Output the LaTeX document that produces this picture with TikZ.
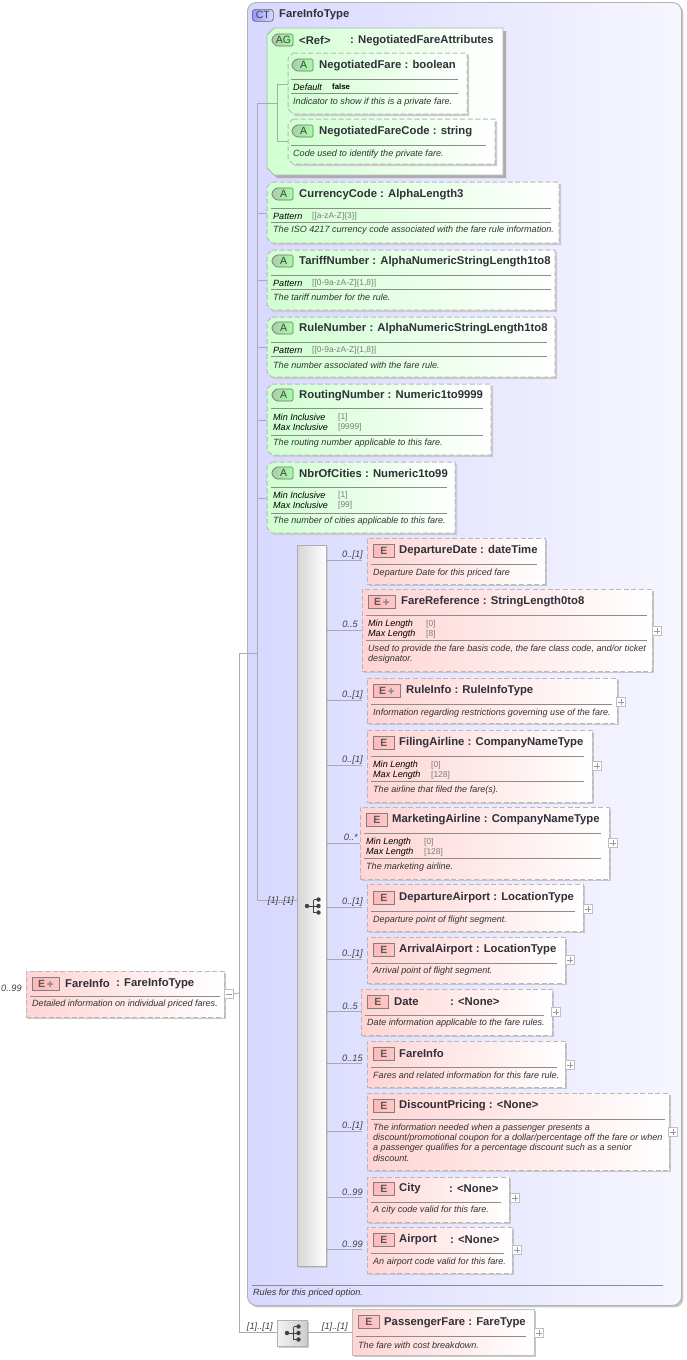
\documentclass[tikz,border=0pt]{standalone}
\usepackage{fontspec}
\setmainfont{Liberation Sans}
\newfontfamily\symf{DejaVu Sans}
\usetikzlibrary{shadows}
\definecolor{linec}{HTML}{A9A9B4}
\definecolor{dashc}{HTML}{B8B8BC}
\definecolor{greenf}{HTML}{D0FFD0}
\definecolor{redf}{HTML}{FFD4D4}
\definecolor{ctl}{HTML}{D8D8FF}
\definecolor{ctr}{HTML}{F6F6FF}
\definecolor{titlec}{HTML}{303038}
\definecolor{smallg}{HTML}{7C7C7C}
\tikzset{
 x=1pt,y=-1pt,
 dashline/.style={draw=dashc,dash pattern=on 5pt off 2.6pt,line width=1pt},
 attrfill/.style={left color=greenf,right color=white,dashline},
 groupfill/.style={left color=greenf,right color=white,draw=black!30,line width=.8pt},
 boxbase/.style={anchor=north west,inner sep=0pt,outer sep=0pt,right color=white,general shadow={fill=black!22,shadow xshift=2pt,shadow yshift=-2pt}},
 elembox/.style={boxbase,rectangle,left color=redf,dashline},
 solidbox/.style={boxbase,rectangle,left color=redf,draw=black!25,line width=1pt},
 ctbox/.style={anchor=north west,inner sep=0pt,rectangle,rounded corners=9pt,left color=ctl,right color=ctr,draw=black!30,line width=.9pt,general shadow={fill=black!22,shadow xshift=2pt,shadow yshift=-2pt}},
 seqbar/.style={anchor=north west,inner sep=0pt,rectangle,left color=black!16,right color=white,draw=black!32,line width=1pt,general shadow={fill=black!20,shadow xshift=1.5pt,shadow yshift=-1.5pt}},
 seqsmall/.style={anchor=north west,inner sep=0pt,rectangle,left color=black!5,right color=black!20,draw=black!30,line width=.7pt,general shadow={fill=black!20,shadow xshift=1.5pt,shadow yshift=-1.5pt}},
 titletxt/.style={anchor=west,inner sep=0pt,yshift=-1.3pt,font=\fontsize{11.3}{12}\selectfont\bfseries,text=titlec},
 desctxt/.style={anchor=west,inner sep=0pt,yshift=-1pt,font=\fontsize{9.05}{10}\selectfont\itshape,text=black!80},
 proptxt/.style={anchor=west,inner sep=0pt,yshift=-1pt,font=\fontsize{9.05}{10}\selectfont\itshape,text=black},
 valtxt/.style={anchor=west,inner sep=0pt,yshift=-1pt,font=\fontsize{8.4}{10}\selectfont,text=smallg},
 occ/.style={anchor=east,inner sep=0pt,yshift=-1pt,font=\fontsize{9.3}{10}\selectfont\itshape,text=black!75},
 conn/.style={draw=linec,line width=.8pt},
 rulel/.style={draw=black!45,line width=.6pt},
 plusbox/.style={anchor=north west,rectangle,inner sep=0pt,minimum width=9pt,minimum height=9pt,draw=black!25,fill=white,line width=.7pt},
 iconE/.style={anchor=north west,rectangle,inner sep=0pt,minimum height=13pt,draw=black!50,left color=red!28!white,middle color=red!7!white,right color=red!22!white,line width=.7pt,font=\fontsize{10.5}{10}\selectfont\bfseries,text=black!65},
 iconAfill/.style={draw=black!55,line width=.7pt,left color=green!45!black!35,middle color=green!18!white,right color=green!35!white},
 iconlab/.style={inner sep=0pt,font=\fontsize{10.5}{10}\selectfont,text=black!75},
 iconCT/.style={anchor=north west,rectangle,inner sep=0pt,rounded corners=3pt,minimum height=12pt,minimum width=21pt,draw=black!60,left color=ctl!70!blue,right color=ctl,line width=.7pt,font=\fontsize{10.5}{10}\selectfont,text=black!75},
 anchorbox/.style={anchor=north west,inner sep=0pt,outer sep=0pt,rectangle},
}
\newcommand{\mybox}[6]{\node[#1,minimum width=#5pt-#3pt,minimum height=#6pt-#4pt] (#2) at (#3,#4) {};}
% chamfered box: fill style, shadow offset, shadow colour, name, x1,y1,x2,y2, chamfer
\newcommand{\chamb}[9]{%
 \fill[#3] (#5+#9+#2,#6+#2) -- (#7+#2,#6+#2) -- (#7+#2,#8+#2) -- (#5+#9+#2,#8+#2) -- (#5+#2,#8-#9+#2) -- (#5+#2,#6+#9+#2) -- cycle;
 \path[#1] (#5+#9,#6) -- (#7,#6) -- (#7,#8) -- (#5+#9,#8) -- (#5,#8-#9) -- (#5,#6+#9) -- cycle;
 \node[anchorbox,minimum width=#7pt-#5pt,minimum height=#8pt-#6pt] (#4) at (#5,#6) {};}
\newcommand{\attrb}[5]{\chamb{attrfill}{2}{black!20}{#1}{#2}{#3}{#4}{#5}{5}}
\newcommand{\hr}[3]{\draw[rulel] (#1,#3) -- (#2,#3);}
\newcommand{\Eicon}[3]{\node[iconE,minimum width=21pt] (#1) at (#2,#3) {E};}
\newcommand{\EPicon}[3]{\node[iconE,minimum width=27pt] (#1) at (#2,#3) {E\,\textcolor{black!45}{\symf\fontsize{8}{10}\selectfont ✚}};}
% green tag icon: name, x, y, width, text
\newcommand{\tagicon}[5]{%
 \path[iconAfill,rounded corners=1.5pt] (#2+4,#3) -- (#2+#4,#3) -- (#2+#4,#3+12) -- (#2+4,#3+12) -- (#2,#3+8) -- (#2,#3+4) -- cycle;
 \node[iconlab] (#1) at (#2+#4/2+1,#3+6) {#5};}
\newcommand{\Aicon}[3]{\tagicon{#1}{#2}{#3}{21}{A}}
\newcommand{\plus}[3]{\node[plusbox] (#1) at (#2,#3) {}; \draw[black!40,line width=.5pt] ([xshift=-3pt]#1.center) -- ([xshift=3pt]#1.center) ([yshift=-3pt]#1.center) -- ([yshift=3pt]#1.center);}
\newcommand{\txt}[5]{\node[#1] (#2) at (#3,#4) {#5};}
\newcommand{\seqicon}{%
 \draw[black!75,line width=1pt] (-5,0) -- (1.5,0) (1.5,-6.5) -- (1.5,6.5) (1.5,-6.5) -- (6.5,-6.5) (1.5,0) -- (6.5,0) (1.5,6.5) -- (6.5,6.5);
 \fill[black!75] (-5,0) circle (2.2) (6.5,-6.5) circle (2.2) (6.5,0) circle (2.2) (6.5,6.5) circle (2.2);}
\begin{document}
\begin{tikzpicture}
\useasboundingbox (0,0) rectangle (686,1360);
\fill[white] (0,0) rectangle (686,1360);
% complex type
\mybox{ctbox}{ct}{247}{2}{681}{1305}
\node[iconCT] (cticon) at (252,9) {CT};
\txt{titletxt}{cttitle}{279}{13}{FareInfoType}
% free junctions
\coordinate (j0) at (239,993);
\coordinate (j1) at (239,653);
\coordinate (j2) at (239,1332);
\coordinate (k1) at (257,653);
\coordinate (ktop) at (257,103);
\coordinate (kseq) at (257,900);
\coordinate (g1) at (277,103);
\coordinate (g2) at (277,84);
\coordinate (g3) at (277,141);
\draw[conn] (j1) -- (j2);
\draw[conn] (j1) -- (k1);
\draw[conn] (ktop) -- (kseq);
\foreach \yy in {213,280,347,420,498} \draw[conn] (257,\yy) -- (267,\yy);
\draw[conn] (ktop) -- (267,103);
% attribute group
\chamb{groupfill}{3}{black!32}{ag}{267}{28}{503}{175}{7}
\draw[conn] (ag.west |- g1) -- (g1);
\draw[conn] (g2) -- (g3);
\tagicon{agicon}{272}{34}{21}{AG}
\txt{titletxt}{agname}{299}{39}{<Ref>}
\txt{titletxt}{agtype}{350}{39}{: NegotiatedFareAttributes}
\draw[conn] (g2) -- (288,84);
\draw[conn] (g3) -- (288,141);
\attrb{nf}{288}{53}{467}{114}
\Aicon{nficon}{292}{59}
\txt{titletxt}{nft}{319}{64}{NegotiatedFare : boolean}
\hr{291}{458}{79}
\txt{proptxt}{nfd}{293}{86}{Default}
\node[anchor=west,inner sep=0pt,yshift=-1pt,font=\fontsize{7.8}{10}\selectfont\bfseries] (nfv) at (332,86) {false};
\hr{291}{458}{93}
\txt{desctxt}{nfx}{293}{101}{Indicator to show if this is a private fare.}
\attrb{nc}{288}{119}{495}{164}
\Aicon{ncicon}{292}{125}
\txt{titletxt}{nct}{319}{130}{NegotiatedFareCode : string}
\hr{291}{486}{145}
\txt{desctxt}{ncx}{293}{153}{Code used to identify the private fare.}
% Currency
\attrb{cc}{267}{182}{559}{243}
\Aicon{ccicon}{272}{188}
\txt{titletxt}{cct}{299}{193}{CurrencyCode : AlphaLength3}
\hr{271}{551}{208}
\txt{proptxt}{ccp}{273}{215}{Pattern}
\txt{valtxt}{ccv}{312}{215}{[[a-zA-Z]{\char123}3{\char125}]}
\hr{271}{551}{222}
\txt{desctxt}{ccx}{273}{229}{The ISO 4217 currency code associated with the fare rule information.}
% Tariff
\attrb{tn}{267}{250}{555}{310}
\Aicon{tnicon}{272}{255}
\txt{titletxt}{tnt}{299}{260}{TariffNumber : AlphaNumericStringLength1to8}
\hr{271}{551}{275}
\txt{proptxt}{tnp}{273}{282}{Pattern}
\txt{valtxt}{tnv}{312}{282}{[[0-9a-zA-Z]{\char123}1,8{\char125}]}
\hr{271}{551}{289}
\txt{desctxt}{tnx}{273}{296}{The tariff number for the rule.}
% Rule
\attrb{rn}{267}{317}{555}{377}
\Aicon{rnicon}{272}{322}
\txt{titletxt}{rnt}{299}{327}{RuleNumber : AlphaNumericStringLength1to8}
\hr{271}{547}{342}
\txt{proptxt}{rnp}{273}{349}{Pattern}
\txt{valtxt}{rnv}{312}{349}{[[0-9a-zA-Z]{\char123}1,8{\char125}]}
\hr{271}{547}{356}
\txt{desctxt}{rnx}{273}{364}{The number associated with the fare rule.}
% Routing
\attrb{rt}{267}{384}{491}{455}
\Aicon{rticon}{272}{389}
\txt{titletxt}{rtt}{299}{394}{RoutingNumber : Numeric1to9999}
\hr{271}{483}{408}
\txt{proptxt}{rtp}{273}{416}{Min Inclusive}
\txt{valtxt}{rtv}{338}{416}{[1]}
\txt{proptxt}{rtq}{273}{426}{Max Inclusive}
\txt{valtxt}{rtw}{338}{426}{[9999]}
\hr{271}{483}{435}
\txt{desctxt}{rtx}{273}{442}{The routing number applicable to this fare.}
% Cities
\attrb{nb}{267}{462}{455}{533}
\Aicon{nbicon}{272}{467}
\txt{titletxt}{nbt}{299}{472}{NbrOfCities : Numeric1to99}
\hr{271}{447}{487}
\txt{proptxt}{nbp}{273}{494}{Min Inclusive}
\txt{valtxt}{nbv}{338}{494}{[1]}
\txt{proptxt}{nbq}{273}{504}{Max Inclusive}
\txt{valtxt}{nbw}{338}{504}{[99]}
\hr{271}{447}{513}
\txt{desctxt}{nbx}{273}{520}{The number of cities applicable to this fare.}
% sequence
\mybox{seqbar}{seq}{297}{545}{326}{1266}
\draw[conn] (kseq) -- (seq.west |- kseq);
\txt{occ}{oseq}{294}{900}{[1]..[1]}
\foreach \yy in {560,630,700,765,843,907,959,1011,1063,1131,1197,1249} \draw[conn] (326,\yy) -- (362,\yy);
\begin{scope}[shift={(312,906)}]
\seqicon
\end{scope}
% elements
\mybox{elembox}{e1}{367}{538}{545}{584}
\Eicon{e1i}{373}{544}
\txt{titletxt}{e1t}{399}{549}{DepartureDate : dateTime}
\hr{371}{537}{564}
\txt{desctxt}{e1x}{373}{572}{Departure Date for this priced fare}
\txt{occ}{e1o}{363}{554}{0..[1]}
%
\mybox{elembox}{e2}{362}{589}{652}{671}
\EPicon{e2i}{368}{595}
\txt{titletxt}{e2t}{401}{600}{FareReference : StringLength0to8}
\hr{366}{647}{615}
\txt{proptxt}{e2p}{368}{623}{Min Length}
\txt{valtxt}{e2v}{426}{623}{[0]}
\txt{proptxt}{e2q}{368}{633}{Max Length}
\txt{valtxt}{e2w}{426}{633}{[8]}
\hr{366}{647}{640}
\txt{desctxt}{e2x}{368}{648}{Used to provide the fare basis code, the fare class code, and/or ticket}
\txt{desctxt}{e2y}{368}{658}{designator.}
\txt{occ}{e2o}{358}{623}{0..5}
\plus{e2b}{652}{626}
%
\mybox{elembox}{e3}{367}{678}{617}{723}
\EPicon{e3i}{373}{684}
\txt{titletxt}{e3t}{406}{689}{RuleInfo : RuleInfoType}
\hr{371}{612}{704}
\txt{desctxt}{e3x}{373}{712}{Information regarding restrictions governing use of the fare.}
\txt{occ}{e3o}{363}{694}{0..[1]}
\plus{e3b}{616}{697}
%
\mybox{elembox}{e4}{367}{730}{592}{802}
\Eicon{e4i}{373}{736}
\txt{titletxt}{e4t}{399}{741}{FilingAirline : CompanyNameType}
\hr{371}{584}{756}
\txt{proptxt}{e4p}{373}{764}{Min Length}
\txt{valtxt}{e4v}{431}{764}{[0]}
\txt{proptxt}{e4q}{373}{774}{Max Length}
\txt{valtxt}{e4w}{431}{774}{[128]}
\hr{371}{584}{781}
\txt{desctxt}{e4x}{373}{789}{The airline that filed the fare(s).}
\txt{occ}{e4o}{363}{759}{0..[1]}
\plus{e4b}{592}{761}
%
\mybox{elembox}{e5}{360}{807}{609}{879}
\Eicon{e5i}{366}{813}
\txt{titletxt}{e5t}{392}{818}{MarketingAirline : CompanyNameType}
\hr{364}{601}{833}
\txt{proptxt}{e5p}{366}{841}{Min Length}
\txt{valtxt}{e5v}{424}{841}{[0]}
\txt{proptxt}{e5q}{366}{851}{Max Length}
\txt{valtxt}{e5w}{424}{851}{[128]}
\hr{364}{601}{858}
\txt{desctxt}{e5x}{366}{866}{The marketing airline.}
\txt{occ}{e5o}{358}{836}{0..*}
\plus{e5b}{608}{838}
%
\mybox{elembox}{e6}{367}{884}{583}{931}
\Eicon{e6i}{373}{891}
\txt{titletxt}{e6t}{399}{896}{DepartureAirport : LocationType}
\hr{371}{575}{911}
\txt{desctxt}{e6x}{373}{919}{Departure point of flight segment.}
\txt{occ}{e6o}{363}{901}{0..[1]}
\plus{e6b}{583}{904}
%
\mybox{elembox}{e7}{367}{937}{565}{983}
\Eicon{e7i}{373}{943}
\txt{titletxt}{e7t}{399}{948}{ArrivalAirport : LocationType}
\hr{371}{557}{963}
\txt{desctxt}{e7x}{373}{970}{Arrival point of flight segment.}
\txt{occ}{e7o}{363}{953}{0..[1]}
\plus{e7b}{565}{955}
%
\mybox{elembox}{e8}{361}{989}{552}{1035}
\Eicon{e8i}{367}{995}
\txt{titletxt}{e8t}{394}{1000}{Date}
\txt{titletxt}{e8u}{450}{1000}{: <None>}
\hr{365}{544}{1015}
\txt{desctxt}{e8x}{367}{1022}{Date information applicable to the fare rules.}
\txt{occ}{e8o}{358}{1005}{0..5}
\plus{e8b}{551}{1007}
%
\mybox{elembox}{e9}{367}{1041}{565}{1087}
\Eicon{e9i}{373}{1047}
\txt{titletxt}{e9t}{399}{1052}{FareInfo}
\hr{371}{557}{1067}
\txt{desctxt}{e9x}{373}{1074}{Fares and related information for this fare rule.}
\txt{occ}{e9o}{363}{1057}{0..15}
\plus{e9b}{565}{1060}
%
\mybox{elembox}{e10}{367}{1093}{669}{1170}
\Eicon{e10i}{373}{1099}
\txt{titletxt}{e10t}{399}{1104}{DiscountPricing : <None>}
\hr{371}{665}{1119}
\txt{desctxt}{e10x}{373}{1127}{The information needed when a passenger presents a}
\txt{desctxt}{e10y}{373}{1137}{discount/promotional coupon for a dollar/percentage off the fare or when}
\txt{desctxt}{e10z}{373}{1147}{a passenger qualifies for a percentage discount such as a senior}
\txt{desctxt}{e10w}{373}{1157}{discount.}
\txt{occ}{e10o}{363}{1125}{0..[1]}
\plus{e10b}{668}{1127}
%
\mybox{elembox}{e11}{367}{1177}{509}{1222}
\Eicon{e11i}{373}{1182}
\txt{titletxt}{e11t}{399}{1187}{City}
\txt{titletxt}{e11u}{449}{1187}{: <None>}
\hr{371}{501}{1202}
\txt{desctxt}{e11x}{373}{1209}{A city code valid for this fare.}
\txt{occ}{e11o}{363}{1191}{0..99}
\plus{e11b}{510}{1193}
%
\mybox{elembox}{e12}{367}{1227}{512}{1273}
\Eicon{e12i}{373}{1233}
\txt{titletxt}{e12t}{399}{1238}{Airport}
\txt{titletxt}{e12u}{450}{1238}{: <None>}
\hr{371}{504}{1253}
\txt{desctxt}{e12x}{373}{1261}{An airport code valid for this fare.}
\txt{occ}{e12o}{363}{1243}{0..99}
\plus{e12b}{512}{1245}
% CT bottom
\hr{252}{663}{1285}
\txt{desctxt}{ctx}{253}{1292}{Rules for this priced option.}
% root
\mybox{elembox}{root}{26}{971}{224}{1017}
\EPicon{rooti}{32}{977}
\txt{titletxt}{roott}{65}{982}{FareInfo}
\txt{titletxt}{rootu}{116}{982}{: FareInfoType}
\hr{30}{220}{996}
\txt{desctxt}{rootx}{32}{1003}{Detailed information on individual priced fares.}
\txt{occ}{rooto}{22}{987}{0..99}
\node[plusbox] (rootm) at (224,989) {};
\draw[black!40,line width=.5pt] ([xshift=-3pt]rootm.center) -- ([xshift=3pt]rootm.center);
\draw[conn] (rootm.east) -- (j0);
% bottom sequence
\mybox{seqsmall}{sq2}{277}{1320}{307}{1346}
\draw[conn] (j2) -- (sq2.west |- j2);
\begin{scope}[shift={(292,1333)}]
\seqicon
\end{scope}
\mybox{solidbox}{pf}{352}{1309}{534}{1355}
\draw[conn] (sq2.east |- j2) -- (pf.west |- j2);
\Eicon{pfi}{358}{1315}
\txt{titletxt}{pft}{384}{1321}{PassengerFare : FareType}
\hr{356}{526}{1336}
\txt{desctxt}{pfx}{358}{1344}{The fare with cost breakdown.}
\txt{occ}{pfo}{273}{1326}{[1]..[1]}
\txt{occ}{pfp}{348}{1326}{[1]..[1]}
\plus{pfb}{534}{1328}
\end{tikzpicture}
\end{document}
